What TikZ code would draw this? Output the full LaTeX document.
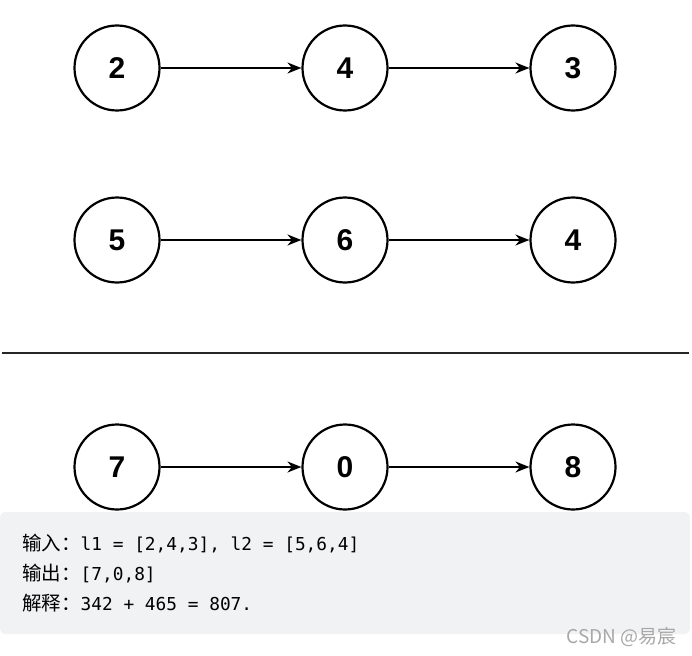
\documentclass[tikz,border=0pt]{standalone}
\usepackage{fontspec}
\setmainfont{Liberation Sans}
\newfontfamily\cjk{Noto Sans CJK SC}
\newfontfamily\monof{DejaVu Sans Mono}
\usetikzlibrary{arrows.meta}
\definecolor{boxgray}{HTML}{F1F2F4}
\definecolor{wmgray}{HTML}{A8A8A8}
\tikzset{
  listnode/.style={circle, draw=black, line width=2.2pt, minimum size=85pt, inner sep=0pt,
    font=\fontsize{30}{32}\selectfont\bfseries},
  link/.style={line width=1.8pt, -{Stealth[length=14pt,width=11pt]}},
  codeline/.style={anchor=base west, inner sep=0pt, font=\fontsize{17.8}{20}\selectfont},
  cjklabel/.style={font=\cjk\fontsize{19.5}{21}\selectfont},
}
\begin{document}
\begin{tikzpicture}[x=1pt,y=-1pt]
\useasboundingbox (0,0) rectangle (692,655);
% list 1
\node[listnode] (a1) at (117,68) {2};
\node[listnode] (a2) at (345,68) {4};
\node[listnode] (a3) at (573,68) {3};
\draw[link] (a1) -- (a2);
\draw[link] (a2) -- (a3);
% list 2
\node[listnode] (b1) at (117,240) {5};
\node[listnode] (b2) at (345,240) {6};
\node[listnode] (b3) at (573,240) {4};
\draw[link] (b1) -- (b2);
\draw[link] (b2) -- (b3);
% separator
\coordinate (s1) at (2,353);
\coordinate (s2) at (689,353);
\draw[line width=2.6pt, black!85] (s1) -- (s2);
% result
\node[listnode] (c1) at (117,467) {7};
\node[listnode] (c2) at (345,467) {0};
\node[listnode] (c3) at (573,467) {8};
\draw[link] (c1) -- (c2);
\draw[link] (c2) -- (c3);
% code box
\fill[boxgray, rounded corners=5pt] (0,512) rectangle (690,634);
\node[codeline] (t1) at (22,550) {{\cjk\fontsize{19.5}{21}\selectfont 输入：}\monof l1 = [2,4,3], l2 = [5,6,4]};
\node[codeline] (t2) at (22,580) {{\cjk\fontsize{19.5}{21}\selectfont 输出：}\monof [7,0,8]};
\node[codeline] (t3) at (22,610) {{\cjk\fontsize{19.5}{21}\selectfont 解释：}\monof 342 + 465 = 807.};
\node[anchor=base east, inner sep=0pt, text=wmgray, font=\cjk\fontsize{19}{21}\selectfont] (wm) at (677,643) {CSDN @易宸};
\end{tikzpicture}
\end{document}
